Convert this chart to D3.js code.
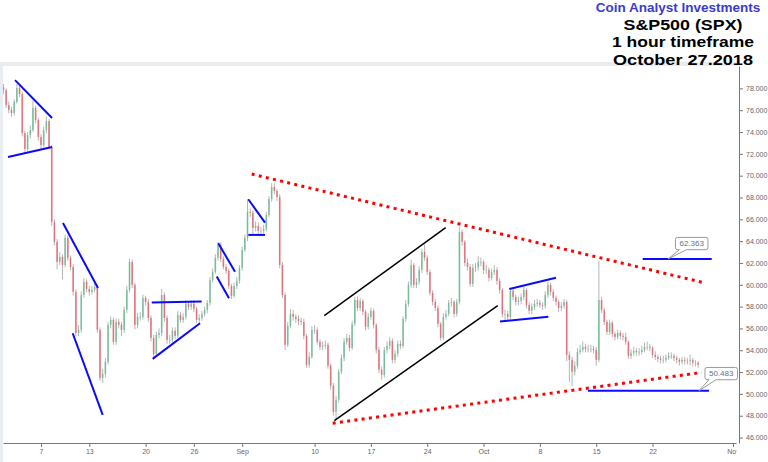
<!DOCTYPE html>
<html lang="en">
<head>
<meta charset="UTF-8">
<title>S&amp;P500 (SPX) 1 hour timeframe</title>
<script src="https://d3js.org/d3.v7.min.js"></script>
<style>
body {margin:0; background:#fff;}
svg {display:block;}
.axis text {font-family:"Liberation Sans", Arial, sans-serif; font-size:7px; fill:#666;}
.axis line, .axis path {stroke:#777;}
</style>
</head>
<body>
<div id="chart"></div>
<script>
// one candle every 8 hours, starting Aug 2 2018 08:00
var candleStart = "2018-08-02T08:00";
var candleHours = 8;
var firstOpen = 78.1;

var closes = [77.84,76.47,76.01,75.74,76.75,78.03,77.48,73.91,72.44,73.72,
  74.18,76.2,75.1,73.54,72.81,74.18,75.0,72.62,65.76,63.93,
  62.1,62.56,61.82,64.29,62.47,61.64,59.35,55.59,55.87,59.07,
  60.27,59.62,59.35,59.53,59.81,55.87,51.47,51.84,52.94,56.33,
  56.78,54.77,56.6,56.33,55.87,57.7,59.53,62.1,60.0,56.33,
  57.06,57.06,58.8,58.43,56.96,55.13,53.67,55.41,55.59,59.07,
  56.96,54.95,54.95,55.78,55.32,57.24,56.78,57.06,58.25,57.97,
  58.25,57.79,56.78,56.96,57.33,57.7,58.34,60.45,61.18,62.47,
  63.65,62.37,61.64,61.27,59.89,58.98,59.89,60.36,61.55,63.19,
  64.29,66.67,66.58,65.21,65.39,64.93,64.93,65.12,66.4,67.86,
  68.96,68.6,68.05,61.82,59.07,54.5,56.24,57.33,57.06,56.87,
  56.69,56.6,55.32,52.67,53.39,55.87,55.87,54.77,54.31,54.4,
  54.5,52.58,50.75,48.36,49.46,52.03,53.3,54.77,55.13,54.22,
  56.42,58.61,57.88,58.52,57.52,56.15,57.06,57.61,56.33,54.04,
  52.21,51.75,54.04,54.4,54.86,53.12,53.67,54.59,54.4,56.87,
  58.25,59.99,61.82,59.99,60.27,61.36,63.01,62.47,61.18,59.26,
  58.43,57.88,56.42,55.13,57.06,57.33,58.34,58.43,57.33,58.43,
  64.84,63.93,62.0,61.64,60.08,61.55,61.64,62.1,62.1,61.36,
  61.36,60.63,61.18,61.36,60.36,59.53,57.33,57.33,57.06,59.44,
  58.89,58.43,58.52,58.89,59.53,58.16,57.61,57.97,58.25,58.34,
  58.16,58.07,59.07,59.99,59.35,58.8,58.43,57.88,58.07,58.43,
  53.58,53.12,52.03,52.58,53.85,54.04,54.31,54.13,54.13,54.13,
  54.04,53.12,58.61,57.7,56.6,55.68,56.51,55.5,55.22,55.59,
  55.32,55.22,54.77,53.49,53.76,53.94,53.85,53.85,54.04,54.31,
  54.31,54.22,53.58,53.39,53.21,53.12,53.12,53.3,53.49,53.49,
  53.3,53.12,52.94,53.12,53.03,53.03,53.12,52.85,52.85,52.67];

var highs = [78.4,78.0,76.8,76.3,77.0,78.4,78.3,77.7,74.1,74.0,
  74.6,76.9,76.4,75.3,73.8,74.5,75.4,75.2,72.8,66.0,
  64.2,63.0,62.8,64.6,64.5,62.7,61.9,59.6,56.3,59.4,
  60.6,60.5,59.9,59.9,60.2,60.0,56.1,52.3,53.3,56.6,
  57.1,57.0,56.9,56.9,56.6,58.0,59.9,62.4,62.3,60.2,
  57.4,57.5,59.1,59.0,58.7,57.2,55.4,55.7,56.0,59.6,
  59.3,57.2,55.4,56.1,56.1,57.6,57.5,57.4,58.6,58.5,
  58.6,58.6,58.0,57.3,57.6,58.0,58.6,60.7,61.5,62.8,
  63.9,63.9,62.6,61.9,61.5,60.1,60.2,60.7,61.8,63.5,
  64.6,67.8,67.0,66.8,65.8,65.7,65.3,65.5,66.7,68.1,
  69.3,69.3,68.8,68.3,62.1,59.3,56.6,57.8,57.7,57.3,
  57.2,57.0,56.9,55.5,53.8,56.2,56.3,56.1,55.0,54.8,
  54.9,54.7,52.8,51.0,49.8,52.3,53.6,55.1,55.5,55.4,
  56.7,58.9,58.9,58.8,58.7,57.7,57.4,57.9,57.8,56.5,
  54.3,52.5,54.3,54.8,55.2,55.1,54.0,54.9,54.9,57.1,
  58.6,60.3,62.3,62.0,60.6,61.7,63.3,63.7,62.7,61.4,
  59.5,58.7,58.1,56.6,57.4,57.7,58.6,58.8,58.6,58.7,
  65.3,65.1,64.1,62.4,61.9,61.9,62.0,62.6,62.5,62.3,
  61.8,61.6,61.5,61.8,61.6,60.6,59.7,57.7,57.6,59.7,
  59.7,59.1,58.9,59.2,59.9,59.7,58.4,58.3,58.6,58.7,
  58.6,58.4,59.4,60.3,60.2,59.6,59.0,58.6,58.4,58.7,
  58.6,53.9,53.4,53.0,54.2,54.5,54.8,54.6,54.5,54.5,
  54.4,54.3,62.2,58.9,57.9,56.8,56.8,56.7,55.7,55.9,
  55.8,55.6,55.6,54.9,54.1,54.3,54.2,54.2,54.4,54.7,
  54.8,54.6,54.4,53.9,53.6,53.5,53.5,53.6,53.8,53.8,
  53.7,53.5,53.3,53.4,53.4,53.3,53.6,53.3,53.1,53.0];

var lows = [77.5,76.2,75.7,75.4,75.5,76.6,77.2,73.6,72.1,72.2,
  73.4,74.0,74.8,73.2,72.4,72.6,73.9,72.4,65.4,63.6,
  61.4,61.8,60.5,61.6,62.2,61.3,59.0,55.3,55.3,55.6,
  58.8,59.3,59.0,59.1,59.3,55.6,51.2,51.0,51.5,52.7,
  56.0,54.5,54.5,56.0,55.3,55.6,57.4,59.3,59.7,55.9,
  56.0,56.7,56.8,58.1,56.6,54.8,53.3,53.4,55.1,55.3,
  56.6,54.6,54.6,54.7,55.0,55.1,56.5,56.5,56.8,57.7,
  57.7,57.5,56.5,56.5,56.7,57.1,57.4,58.1,60.2,61.0,
  62.2,62.1,61.4,61.0,59.6,58.7,58.8,59.6,60.1,61.3,
  63.0,64.0,66.2,64.6,64.9,64.6,64.5,64.7,64.9,66.2,
  67.6,68.3,67.7,61.5,58.8,54.0,54.3,56.0,56.7,56.5,
  56.3,56.3,55.0,52.4,52.4,53.2,55.5,54.5,54.0,54.0,
  54.1,52.3,50.4,48.0,47.6,49.2,51.8,53.0,54.5,53.9,
  54.0,56.2,57.6,57.6,57.2,55.8,55.9,56.8,56.0,53.7,
  51.9,51.3,51.5,53.7,54.1,52.8,52.8,53.4,54.1,54.2,
  56.6,58.0,59.7,59.7,59.7,60.0,61.1,62.2,60.9,59.0,
  58.1,57.6,56.1,54.9,54.9,56.8,57.1,58.0,57.0,57.1,
  58.2,63.6,61.7,61.3,59.8,59.8,61.2,61.3,61.7,61.0,
  61.0,60.3,60.4,60.9,60.0,59.2,57.0,56.6,56.7,56.8,
  58.6,58.1,58.1,58.2,58.6,57.8,57.3,57.3,57.7,58.0,
  57.9,57.7,57.8,58.8,59.0,58.5,58.1,57.5,57.6,57.8,
  53.0,51.1,50.7,51.7,52.3,53.6,53.8,53.8,53.8,53.8,
  53.7,52.6,52.9,57.4,56.3,55.4,55.4,55.2,54.9,55.0,
  55.0,54.9,54.5,53.2,53.2,53.5,53.5,53.5,53.6,53.8,
  54.0,53.9,53.3,53.1,52.9,52.8,52.8,52.9,53.1,53.2,
  53.0,52.8,52.6,52.7,52.7,52.7,52.6,52.5,52.5,52.4];

var priceTicks = [46,48,50,52,54,56,58,60,62,64,66,68,70,72,74,76,78];
var dateTicks = ["2018-08-07","2018-08-13","2018-08-20","2018-08-26","2018-09-01","2018-09-10","2018-09-17",
  "2018-09-24","2018-10-01","2018-10-08","2018-10-15","2018-10-22","2018-11-01"];
var dateLabels = ["7","13","20","26","Sep","10","17","24","Oct","8","15","22","Nov"];

// drawn trend lines: [start time, start price, end time, end price]
var blueLines = [
  ["2018-08-03T18:30",78.76,"2018-08-08T09:00",75.28],
  ["2018-08-02T21:40",71.71,"2018-08-08T09:00",72.62],
  ["2018-08-09T17:30",65.66,"2018-08-14T02:00",59.71],
  ["2018-08-10T22:30",55.56,"2018-08-14T16:00",48.08],
  ["2018-08-20T18:15",58.37,"2018-08-26T23:20",58.46],
  ["2018-08-20T21:00",53.21,"2018-08-26T18:15",56.48],
  ["2018-08-29T00:45",63.81,"2018-08-31T02:40",61.2],
  ["2018-08-28T20:10",60.75,"2018-08-30T08:40",58.77],
  ["2018-09-01T18:15",67.84,"2018-09-03T20:10",65.69],
  ["2018-09-01T18:15",64.57,"2018-09-03T20:10",64.57],
  ["2018-10-04T04:50",59.62,"2018-10-10T00:00",60.65],
  ["2018-10-03T01:00",56.63,"2018-10-09T01:10",57.06],
  ["2018-10-20T18:40",62.363,"2018-10-29T08:30",62.363],
  ["2018-10-13T23:20",50.28,"2018-10-29T00:30",50.28]
];
var blackLines = [
  ["2018-09-11T05:00",57.18,"2018-09-26T07:00",65.23],
  ["2018-09-12T10:50",47.56,"2018-10-02T18:15",58.09]
];
var redLines = [
  ["2018-09-02T04:20",70.15,"2018-10-28T07:30",60.2],
  ["2018-09-12T06:00",47.32,"2018-10-28T02:40",51.96]
];
var priceTags = [
  {text:"62.363", time:"2018-10-23T22:00", price:62.363},
  {text:"50.483", time:"2018-10-27T18:30", price:50.28}
];

var titleLines = ["S&P500 (SPX)", "1 hour timeframe", "October 27.2018"];
var titleWidths = [119, 142, 140];

var W = 768, H = 462;
var plot = {left:3, right:739, top:66, bottom:443};
var parse = d3.timeParse("%Y-%m-%dT%H:%M");
var parseDay = d3.timeParse("%Y-%m-%d");

var svg = d3.select("#chart").append("svg")
  .attr("width", W).attr("height", H);

// light frame round the chart
svg.append("rect").attr("x", 0).attr("y", 62).attr("width", plot.right).attr("height", 4).attr("fill", "#e9edf1");
svg.append("rect").attr("x", 0).attr("y", 62).attr("width", 3).attr("height", H - 62).attr("fill", "#e9edf1");

var x = d3.scaleTime()
  .domain([parse("2018-08-02T06:40"), parse("2018-11-01T17:54")])
  .range([plot.left, plot.right]);
var y = d3.scaleLinear()
  .domain([45.5, 80.05])
  .range([plot.bottom, plot.top]);

svg.append("clipPath").attr("id", "plotclip").append("rect")
  .attr("x", plot.left).attr("y", plot.top)
  .attr("width", plot.right - plot.left).attr("height", plot.bottom - plot.top);
// the last date label is cut by the price axis
svg.append("clipPath").attr("id", "xclip").append("rect")
  .attr("x", 0).attr("y", -2).attr("width", 736.5).attr("height", 20);

// candles
var t0 = parse(candleStart);
var candles = closes.map(function(c, i) {
  return {t: d3.timeHour.offset(t0, i * candleHours), o: i ? closes[i - 1] : firstOpen, h: highs[i], l: lows[i], c: c};
});
var bw = (x(d3.timeHour.offset(t0, candleHours)) - x(t0)) * 0.62;

var g = svg.append("g").attr("clip-path", "url(#plotclip)");
g.selectAll(".wick").data(candles).enter().append("line")
  .attr("x1", function(d) { return x(d.t); })
  .attr("x2", function(d) { return x(d.t); })
  .attr("y1", function(d) { return y(d.h); })
  .attr("y2", function(d) { return y(d.l); })
  .attr("stroke", "#858585").attr("stroke-width", 0.6);
g.selectAll(".body").data(candles).enter().append("rect")
  .attr("x", function(d) { return x(d.t) - bw / 2; })
  .attr("y", function(d) { return y(Math.max(d.o, d.c)); })
  .attr("width", bw)
  .attr("height", function(d) { return Math.max(0.6, Math.abs(y(d.o) - y(d.c))); })
  .attr("fill", function(d) { return d.c >= d.o ? "#53b987" : "#eb4d5c"; })
  .attr("fill-opacity", 0.65);

// trend lines
function drawLines(data, color, width, dash) {
  svg.append("g").selectAll("line").data(data).enter().append("line")
    .attr("x1", function(d) { return x(parse(d[0])); })
    .attr("y1", function(d) { return y(d[1]); })
    .attr("x2", function(d) { return x(parse(d[2])); })
    .attr("y2", function(d) { return y(d[3]); })
    .attr("stroke", color).attr("stroke-width", width)
    .attr("stroke-dasharray", dash);
}
drawLines(blackLines, "#000", 1.5, null);
drawLines(blueLines, "#0a0aff", 2, null);
drawLines(redLines, "#ff0000", 3, "3,4.3");

// axes
var yAxis = svg.append("g").attr("class", "axis")
  .attr("transform", "translate(" + plot.right + ",0)")
  .call(d3.axisRight(y).tickValues(priceTicks).tickFormat(d3.format(".3f")).tickSize(4).tickSizeOuter(0));
yAxis.selectAll("text").attr("x", 7);

var xAxis = svg.append("g").attr("class", "axis")
  .attr("transform", "translate(0," + plot.bottom + ")")
  .attr("clip-path", "url(#xclip)")
  .call(d3.axisBottom(x).tickValues(dateTicks.map(parseDay))
    .tickFormat(function(d, i) { return dateLabels[i]; }).tickSize(4).tickSizeOuter(0));
xAxis.selectAll("text").attr("y", 6);

// price tags with a pointer
priceTags.forEach(function(p, k) {
  var ax = x(parse(p.time)), ay = y(p.price);
  var bx = ax + (k ? 6 : 7.5), by = ay - (k ? 23.4 : 21.6), bwid = 32.5, bh = 12.3;
  var path = "M" + (bx + 2) + "," + by +
    "H" + (bx + bwid - 2) + "Q" + (bx + bwid) + "," + by + " " + (bx + bwid) + "," + (by + 2) +
    "V" + (by + bh - 2) + "Q" + (bx + bwid) + "," + (by + bh) + " " + (bx + bwid - 2) + "," + (by + bh) +
    "H" + (bx + 11) + "L" + ax + "," + ay + "L" + (bx + 4) + "," + (by + bh) +
    "H" + (bx + 2) + "Q" + bx + "," + (by + bh) + " " + bx + "," + (by + bh - 2) +
    "V" + (by + 2) + "Q" + bx + "," + by + " " + (bx + 2) + "," + by + "Z";
  svg.append("path").attr("d", path).attr("fill", "#fff").attr("stroke", "#9a9a9a").attr("stroke-width", 1);
  svg.append("text").attr("x", bx + bwid / 2).attr("y", by + bh / 2 + 2.8)
    .attr("text-anchor", "middle")
    .style("font-family", "Liberation Sans, Arial, sans-serif").style("font-size", "8px")
    .attr("fill", "#5b7290").text(p.text);
});

// title block
svg.append("text").attr("x", 678).attr("y", 12).attr("text-anchor", "middle")
  .style("font-family", "Liberation Sans, Arial, sans-serif").style("font-weight", "bold").style("font-size", "13.5px")
  .attr("fill", "#3b3bd0").text("Coin Analyst Investments");
svg.selectAll(".title").data(titleLines).enter().append("text")
  .attr("x", 683)
  .attr("y", function(d, i) { return 30 + i * 17.4; })
  .attr("text-anchor", "middle")
  .attr("textLength", function(d, i) { return titleWidths[i]; })
  .attr("lengthAdjust", "spacingAndGlyphs")
  .style("font-family", "Liberation Sans, Arial, sans-serif").style("font-weight", "bold").style("font-size", "15.4px")
  .attr("fill", "#000").text(function(d) { return d; });
</script>
</body>
</html>
